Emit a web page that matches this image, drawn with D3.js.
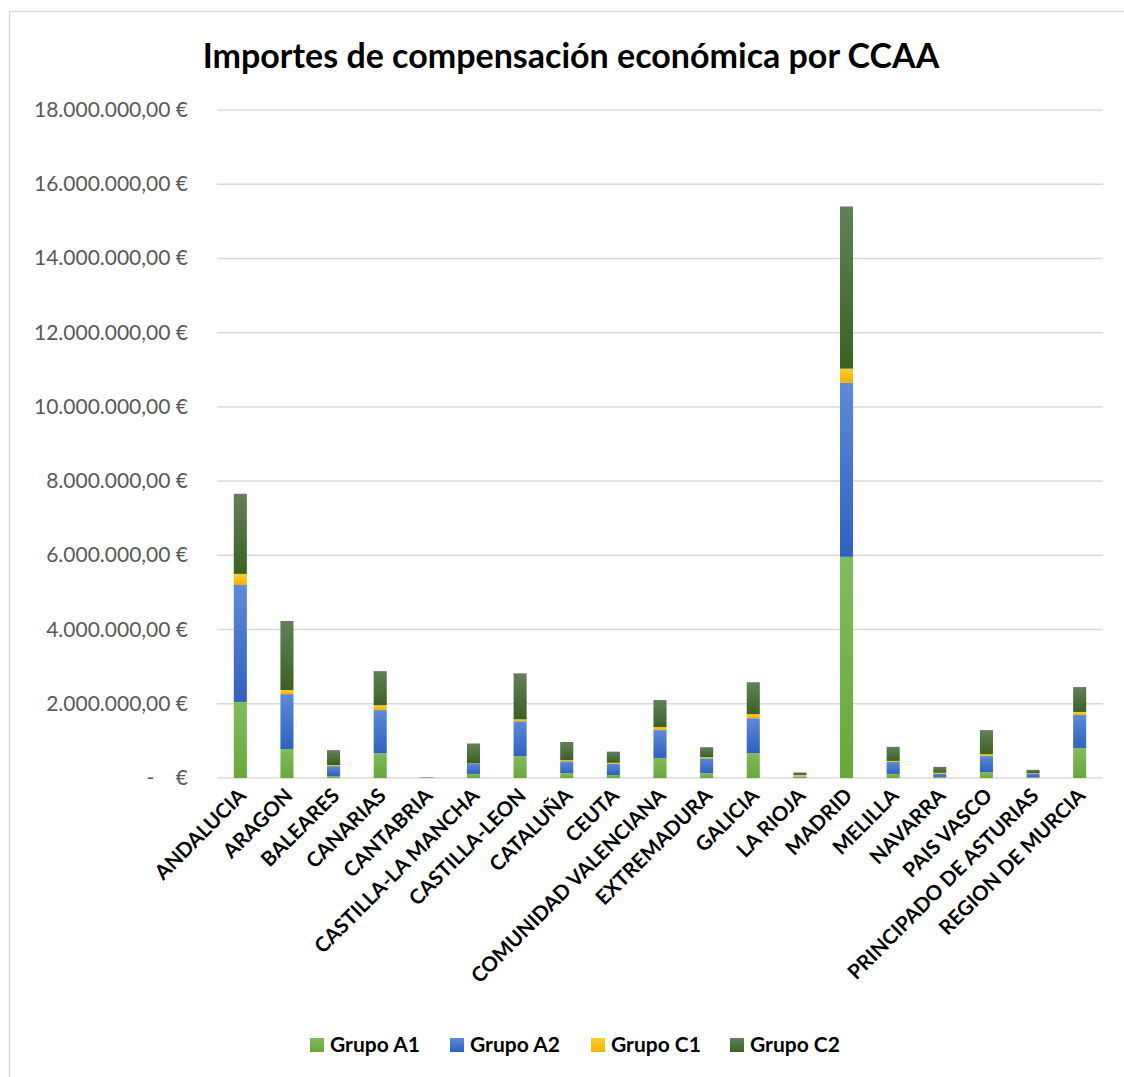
<!DOCTYPE html>
<html>
<head>
<meta charset="utf-8">
<script src="https://cdn.jsdelivr.net/npm/d3@7"></script>
<style>
  body { margin: 0; background: #fff; }
  text { font-family: Lato, "Open Sans", sans-serif; }
</style>
</head>
<body>
<script>
let width = 1124
let height = 1077

const regions = ["ANDALUCIA", "ARAGON", "BALEARES", "CANARIAS", "CANTABRIA", "CASTILLA-LA MANCHA",
  "CASTILLA-LEON", "CATALUÑA", "CEUTA", "COMUNIDAD VALENCIANA", "EXTREMADURA", "GALICIA",
  "LA RIOJA", "MADRID", "MELILLA", "NAVARRA", "PAIS VASCO", "PRINCIPADO DE ASTURIAS", "REGION DE MURCIA"]
const series = ["Grupo A1", "Grupo A2", "Grupo C1", "Grupo C2"]
// importes en euros
const grupoA1 = [2050000, 780000, 50000, 670000, 5000, 110000, 590000, 130000, 80000, 540000, 130000, 670000, 10000, 5960000, 110000, 30000, 160000, 20000, 810000]
const grupoA2 = [3150000, 1480000, 270000, 1160000, 8000, 270000, 940000, 320000, 300000, 750000, 400000, 940000, 30000, 4690000, 320000, 80000, 430000, 100000, 890000]
const grupoC1 = [300000, 110000, 30000, 130000, 0, 10000, 50000, 30000, 30000, 80000, 30000, 110000, 40000, 380000, 30000, 30000, 50000, 10000, 80000]
const grupoC2 = [2160000, 1860000, 400000, 920000, 7000, 540000, 1240000, 490000, 300000, 730000, 270000, 860000, 70000, 4370000, 380000, 160000, 650000, 90000, 670000]
const yTicks = [0, 2e6, 4e6, 6e6, 8e6, 10e6, 12e6, 14e6, 16e6, 18e6]

const colors = {
  "Grupo A1": ["#82bb5e", "#67a838"],
  "Grupo A2": ["#5e8ad6", "#2d62bf"],
  "Grupo C1": ["#ffcc33", "#f0b300"],
  "Grupo C2": ["#62805a", "#3a6222"]
}

const rows = regions.map((r, i) => ({
  region: r,
  "Grupo A1": grupoA1[i], "Grupo A2": grupoA2[i], "Grupo C1": grupoC1[i], "Grupo C2": grupoC2[i]
}))

const es = d3.formatLocale({ decimal: ",", thousands: ".", grouping: [3], currency: ["", " €"] })
const fmt = d => d === 0 ? "-\u00a0\u00a0\u00a0\u00a0€" : es.format(",.2f")(d) + " €"

let svg = d3.select("body").append("svg")
  .attr("width", width)
  .attr("height", height)

svg.append("rect")
  .attr("x", 9.5).attr("y", 11.5)
  .attr("width", 1130).attr("height", 1090)
  .attr("fill", "#fff").attr("stroke", "#d9d9d9").attr("stroke-width", 1.5)

let defs = svg.append("defs")
series.forEach((s, i) => {
  let g = defs.append("linearGradient").attr("id", "grad" + i)
    .attr("x1", 0).attr("y1", 0).attr("x2", 0).attr("y2", 1)
  g.append("stop").attr("offset", "0%").attr("stop-color", colors[s][0])
  g.append("stop").attr("offset", "100%").attr("stop-color", colors[s][1])
})

let x = d3.scaleBand().domain(regions).range([217, 1103]).paddingInner(0.72).paddingOuter(0.36)
let y = d3.scaleLinear().domain([0, 18e6]).range([778, 110])

svg.append("text")
  .attr("x", 571).attr("y", 68)
  .attr("text-anchor", "middle")
  .attr("font-size", 34).attr("font-weight", "bold")
  .attr("fill", "#000")
  .text("Importes de compensación económica por CCAA")

// grid
svg.append("g").selectAll("line")
  .data(yTicks).enter()
  .append("line")
  .attr("x1", 217).attr("x2", 1103)
  .attr("y1", d => y(d)).attr("y2", d => y(d))
  .attr("stroke", "#d9d9d9").attr("stroke-width", 1.5)

svg.append("g").selectAll("text")
  .data(yTicks).enter()
  .append("text")
  .attr("x", 188).attr("y", d => y(d) + 7)
  .attr("text-anchor", "end")
  .attr("font-size", 21).attr("fill", "#595959")
  .text(fmt)

let stacked = d3.stack().keys(series)(rows)

svg.append("g").selectAll("g")
  .data(stacked).enter()
  .append("g")
  .attr("fill", (d, i) => "url(#grad" + i + ")")
  .selectAll("rect")
  .data(d => d).enter()
  .append("rect")
  .attr("x", d => x(d.data.region))
  .attr("width", x.bandwidth())
  .attr("y", d => y(d[1]))
  .attr("height", d => y(d[0]) - y(d[1]))

// x labels
svg.append("g").selectAll("text")
  .data(regions).enter()
  .append("text")
  .attr("transform", d => "translate(" + (x(d) + x.bandwidth() / 2 + 7) + ",797) rotate(-45)")
  .attr("text-anchor", "end")
  .attr("font-size", 20.5).attr("font-weight", "bold")
  .attr("fill", "#000")
  .text(d => d)

// legend
let legendX = [310, 450, 591, 730]
let legend = svg.append("g").selectAll("g")
  .data(series).enter()
  .append("g")
  .attr("transform", (d, i) => "translate(" + legendX[i] + ",1038)")
legend.append("rect")
  .attr("width", 14).attr("height", 14)
  .attr("fill", (d, i) => "url(#grad" + i + ")")
legend.append("text")
  .attr("x", 20).attr("y", 14)
  .attr("font-size", 21).attr("font-weight", "bold")
  .attr("fill", "#000")
  .text(d => d)
</script>
</body>
</html>
